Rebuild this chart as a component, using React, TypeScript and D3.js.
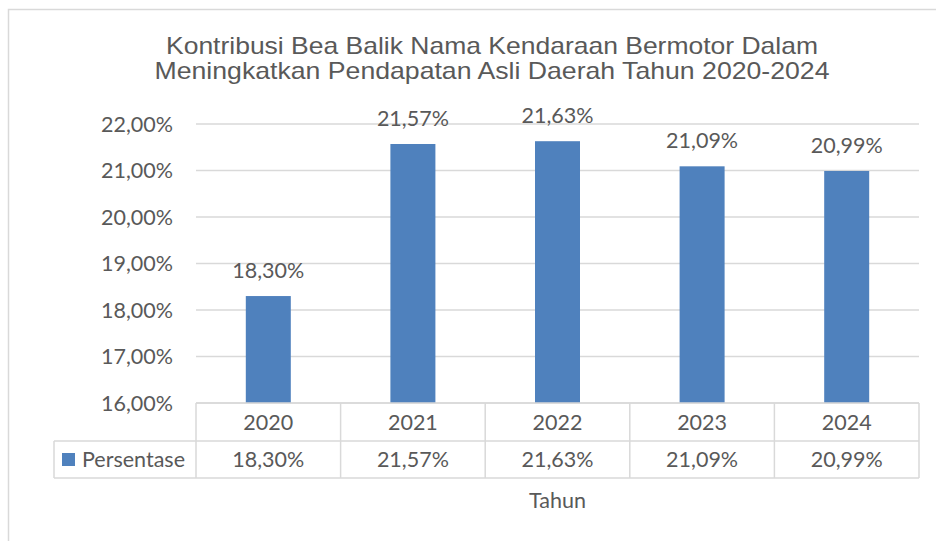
import React from 'react'
import * as d3 from 'd3'

const years = ['2020', '2021', '2022', '2023', '2024']
const persentase = [18.3, 21.57, 21.63, 21.09, 20.99]
const yTicks = [16, 17, 18, 19, 20, 21, 22]
const titleLines = [
  'Kontribusi Bea Balik Nama Kendaraan Bermotor Dalam',
  'Meningkatkan Pendapatan Asli Daerah Tahun 2020-2024',
]
const seriesName = 'Persentase'
const axisTitle = 'Tahun'

const W = 936
const H = 541
const textColor = '#595959'
const gridColor = '#D9D9D9'
const barColor = '#4F81BD'
const font = 'Lato, "Open Sans", sans-serif'
const fs = 21.5

const fmt = (v: number) => v.toFixed(2).replace('.', ',') + '%'

const App = () => {
  const left = 196
  const right = 919
  const top = 124
  const bottom = 403
  const rowMid = 441
  const tableBottom = 478
  const legendLeft = 54

  const x = d3.scaleBand().domain(years).range([left, right]).paddingInner(0).paddingOuter(0)
  const y = d3.scaleLinear().domain([16, 22]).range([bottom, top])
  const barW = 45
  const cx = (yr: string) => x(yr)! + x.bandwidth() / 2

  return (
    <svg width={W} height={H} style={{ position: 'absolute', left: 0, top: 0, background: '#fff' }}>
      {/* chart frame */}
      <path d={`M8.5,${H} V9.5 H${W}`} fill="none" stroke={gridColor} strokeWidth={1.5} />

      {/* title */}
      {titleLines.map((t, i) => (
        <text key={i} x={492} y={53.5 + i * 25.5} textAnchor="middle" fontFamily='"Liberation Sans", Arial, sans-serif'
          fontSize={24} fill={textColor} textLength={i === 0 ? 652 : 675} lengthAdjust="spacingAndGlyphs">{t}</text>
      ))}

      {/* gridlines */}
      {yTicks.map(t => (
        <line key={t} x1={left} x2={right} y1={y(t)} y2={y(t)} stroke={gridColor} strokeWidth={1.5} />
      ))}

      {/* y tick labels */}
      {yTicks.map(t => (
        <text key={t} x={173} y={y(t)} dy="0.35em" textAnchor="end" fontFamily={font} fontSize={fs} fill={textColor}>
          {fmt(t)}
        </text>
      ))}

      {/* bars */}
      {years.map((yr, i) => (
        <rect key={yr} x={cx(yr) - barW / 2} y={y(persentase[i])} width={barW}
          height={bottom - y(persentase[i])} fill={barColor} />
      ))}

      {/* data labels */}
      {years.map((yr, i) => (
        <text key={yr} x={cx(yr)} y={y(persentase[i]) - 18} textAnchor="middle"
          fontFamily={font} fontSize={fs} fill={textColor}>{fmt(persentase[i])}</text>
      ))}

      {/* data table */}
      <g fill="none" stroke={gridColor} strokeWidth={1.5}>
        <line x1={left} x2={right} y1={bottom} y2={bottom} />
        <line x1={legendLeft} x2={right} y1={rowMid} y2={rowMid} />
        <line x1={legendLeft} x2={right} y1={tableBottom} y2={tableBottom} />
        <line x1={legendLeft} x2={legendLeft} y1={rowMid} y2={tableBottom} />
        {[...years.map(yr => x(yr)!), right].map((lx, i) => (
          <line key={i} x1={lx} x2={lx} y1={bottom} y2={tableBottom} />
        ))}
      </g>
      {years.map(yr => (
        <text key={yr} x={cx(yr)} y={(bottom + rowMid) / 2} dy="0.35em" textAnchor="middle"
          fontFamily={font} fontSize={fs} fill={textColor}>{yr}</text>
      ))}
      {years.map((yr, i) => (
        <text key={yr} x={cx(yr)} y={(rowMid + tableBottom) / 2} dy="0.35em" textAnchor="middle"
          fontFamily={font} fontSize={fs} fill={textColor}>{fmt(persentase[i])}</text>
      ))}
      <rect x={62} y={453} width={13} height={13} fill={barColor} />
      <text x={82} y={(rowMid + tableBottom) / 2} dy="0.35em" fontFamily={font} fontSize={fs} fill={textColor}>
        {seriesName}
      </text>

      {/* axis title */}
      <text x={(left + right) / 2} y={500} dy="0.35em" textAnchor="middle" fontFamily={font} fontSize={fs}
        fill={textColor}>{axisTitle}</text>
    </svg>
  )
}

export default App
